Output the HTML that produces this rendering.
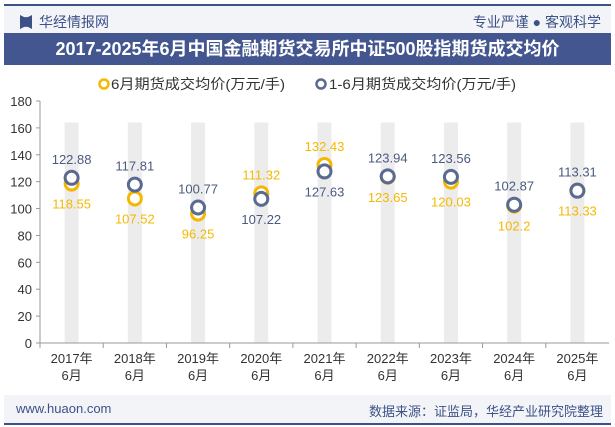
<!DOCTYPE html>
<html><head><meta charset="utf-8"><style>
body{margin:0;width:615px;height:427px;background:#fff;font-family:"Liberation Sans","Noto Sans CJK SC",sans-serif;overflow:hidden;position:relative}
</style></head><body>
<div style="position:absolute;left:4px;top:4px;width:607px;height:2px;background:#3c5187"></div>
<div style="position:absolute;left:4px;top:6px;width:607px;height:27px;background:#f3f4f8"></div>
<div style="position:absolute;left:20px;top:15px;width:12px;height:14px;background:#3c5187;clip-path:polygon(0 0,35% 15%,65% 15%,100% 0,100% 100%,65% 85%,35% 85%,0 100%)"></div>
<div style="position:absolute;left:39px;top:12px;font-size:14px;color:#3c5187">华经情报网</div>
<div style="position:absolute;right:14px;top:12px;font-size:14px;color:#3c5187">专业严谨 ● 客观科学</div>
<div style="position:absolute;left:4px;top:33px;width:607px;height:32px;background:#435690;color:#fff;font-weight:bold;font-size:18px;text-align:center;line-height:32px">2017-2025年6月中国金融期货交易所中证500股指期货成交均价</div>
<svg id="chart" width="615" height="427" style="position:absolute;left:0;top:0"></svg>
<div style="position:absolute;left:4px;top:395px;width:607px;height:28px;background:#f3f4f8"></div>
<div style="position:absolute;left:16px;top:401px;font-size:13px;color:#3c5187">www.huaon.com</div>
<div style="position:absolute;right:12px;top:401px;font-size:13px;color:#3c5187">数据来源：证监局，华经产业研究院整理</div>
<div style="position:absolute;left:4px;top:423px;width:607px;height:2px;background:#3c5187"></div>
<script>
const categories=["2017年","2018年","2019年","2020年","2021年","2022年","2023年","2024年","2025年"];
const june=[118.55,107.52,96.25,111.32,132.43,123.65,120.03,102.2,113.33];
const ytd=[122.88,117.81,100.77,107.22,127.63,123.94,123.56,102.87,113.31];
const juneLabels=["118.55","107.52","96.25","111.32","132.43","123.65","120.03","102.2","113.33"];
const ytdLabels=["122.88","117.81","100.77","107.22","127.63","123.94","123.56","102.87","113.31"];
const juneAbove=[0,0,0,1,1,0,0,0,0];
const ytdAbove=[1,1,1,0,0,1,1,1,1];
const yTicks=[0,20,40,60,80,100,120,140,160,180];
const bgBar=164;
const svg=document.getElementById('chart');const NS='http://www.w3.org/2000/svg';
const X0=40,X1=609,Y0=343,Y1=101;
const band=(X1-X0)/categories.length;
const x=i=>X0+band*(i+0.5);
const y=v=>Y0-(v/180)*(Y0-Y1);
function mk(t,a,p){const e=document.createElementNS(NS,t);for(const k in a)e.setAttribute(k,a[k]);(p||svg).appendChild(e);return e;}
let g=mk('g',{});
let c=mk('circle',{cx:104,cy:84,r:4.5,fill:'#fff',stroke:'#f5b800','stroke-width':2.5},g);
let t=mk('text',{x:111,y:89,'font-size':14,fill:'#333',textLength:174,lengthAdjust:'spacingAndGlyphs'},g);t.textContent='6月期货成交均价(万元/手)';
c=mk('circle',{cx:321,cy:84,r:4.5,fill:'#fff',stroke:'#5a6a90','stroke-width':2.5},g);
t=mk('text',{x:329,y:89,'font-size':14,fill:'#333',textLength:187,lengthAdjust:'spacingAndGlyphs'},g);t.textContent='1-6月期货成交均价(万元/手)';
categories.forEach((cat,i)=>{const r=mk('rect',{x:x(i)-7,y:y(bgBar),width:14,height:Y0-y(bgBar),fill:'#ececec'});
});
mk('line',{x1:X0,y1:Y1,x2:X0,y2:Y0,stroke:'#999'});
mk('line',{x1:X0,y1:Y0,x2:X1,y2:Y0,stroke:'#999'});
yTicks.forEach(v=>{mk('line',{x1:X0-4,y1:y(v),x2:X0,y2:y(v),stroke:'#999'});
const tt=mk('text',{x:X0-8,y:y(v)+5,'font-size':13,fill:'#333','text-anchor':'end'});tt.textContent=v;
});
categories.forEach((cat,i)=>{mk('line',{x1:X0+band*i,y1:Y0,x2:X0+band*i,y2:Y0+5,stroke:'#999'});
let a=mk('text',{x:x(i),y:Y0+20,'font-size':13,fill:'#333','text-anchor':'middle'});a.textContent=cat;

a=mk('text',{x:x(i),y:Y0+37,'font-size':13,fill:'#333','text-anchor':'middle'});a.textContent='6月';});
categories.forEach((cat,i)=>{
let p=mk('circle',{cx:x(i),cy:y(june[i]),r:6.5,fill:'#fff',stroke:'#f5b800','stroke-width':3});

p=mk('circle',{cx:x(i),cy:y(ytd[i]),r:6.5,fill:'#fff',stroke:'#5a6a90','stroke-width':3});

let l=mk('text',{x:x(i),y:juneAbove[i]?y(june[i])-14:y(june[i])+25,'font-size':13,fill:'#f5b800','text-anchor':'middle'});l.textContent=juneLabels[i];

l=mk('text',{x:x(i),y:ytdAbove[i]?y(ytd[i])-14:y(ytd[i])+25,'font-size':13,fill:'#4a5a80','text-anchor':'middle'});l.textContent=ytdLabels[i];

});
</script>
</body></html>
